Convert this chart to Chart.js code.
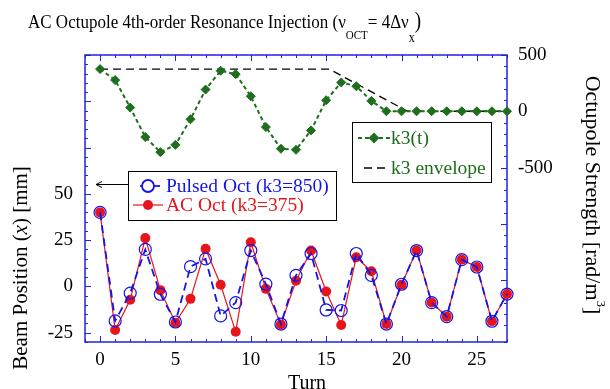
<!DOCTYPE html>
<html>
<head>
<meta charset="utf-8">
<script src="https://cdn.jsdelivr.net/npm/chart.js@4.4.1/dist/chart.umd.min.js"></script>
<style>
  html, body { margin: 0; padding: 0; background: #fff; }
  #wrap { width: 610px; height: 389px; }
</style>
</head>
<body>
<div id="wrap"><canvas id="chart" width="610" height="389"></canvas></div>
<script>
// data
const turns = [0, 1, 2, 3, 4, 5, 6, 7, 8, 9, 10, 11, 12, 13, 14, 15, 16, 17, 18, 19, 20, 21, 22, 23, 24, 25, 26, 27];
const k3Values = [375, 277, 33, -229, -363, -298, -71, 193, 360, 330, 134, -140, -333, -342, -170, 98, 256, 223, 92, 0, 0, 0, 0, 0, 0, 0, 0, 0];
const envelopeTurns = [0, 15.2, 20.4, 27];
const envelopeValues = [375, 375, 0, 0];
const pulsedValues = [40, -18.6, -3.6, 20, -4.2, -19.2, 10.7, 14.9, -15.9, -8.7, 19.4, 1.3, -20.3, 6, 17.8, -12.7, -13, 17.8, 6, -20.3, 1.2, 19.4, -8.7, -16.3, 14.5, 10.5, -18.8, -4.1];
const acValues = [40, -23.5, -7.2, 26.1, -2, -19.6, -6.7, 20.3, 0.9, -24.5, 23.9, -1.3, -20.5, 3.1, 19.4, -2.7, -20.8, 15.8, 8.2, -20.3, 0.9, 19.4, -8.7, -16.3, 14.5, 10.5, -18.8, -4.1];

const xTickLabels = [0, 5, 10, 15, 20, 25];
const leftTickLabels = [-25, 0, 25, 50];
const rightTickLabels = [-500, 0, 500];

const FONT = '"Liberation Serif", "Times New Roman", serif';
const frameBlue = '#2222e0';
const green = '#1e6e1e';
const blue = '#1414e6';
const red = '#e8141c';

function pts(xs, ys) {
    return xs.map((x, i) => ({ x: x, y: ys[i] }));
}

function line(ctx, x1, y1, x2, y2) {
    ctx.beginPath();
    ctx.moveTo(x1, y1);
    ctx.lineTo(x2, y2);
    ctx.stroke();
}

// draws a run of text pieces (for sub / superscripts)
function drawRuns(ctx, x, y, runs) {
    runs.forEach(r => {
        ctx.font = r.font;
        ctx.fillText(r.text, x, y + (r.dy || 0));
        x += ctx.measureText(r.text).width;
    });
}

function runsWidth(ctx, runs) {
    let w = 0;
    runs.forEach(r => { ctx.font = r.font; w += ctx.measureText(r.text).width; });
    return w;
}

const decorPlugin = {
    id: 'decor',
    beforeDatasetsDraw(chart) {
        const ctx = chart.ctx;
        const a = chart.chartArea;
        ctx.save();
        ctx.strokeStyle = frameBlue;
        ctx.lineWidth = 1;

        // inward ticks
        const xs = chart.scales.x;
        xs.ticks.forEach(t => {
            const px = Math.round(xs.getPixelForValue(t.value)) + 0.5;
            const len = t.value % 5 === 0 ? 6 : 3;
            line(ctx, px, a.bottom, px, a.bottom - len);
            line(ctx, px, a.top, px, a.top + len);
        });
        const ys = chart.scales.y;
        ys.ticks.forEach(t => {
            const py = Math.round(ys.getPixelForValue(t.value)) + 0.5;
            const len = t.value % 25 === 0 ? 6 : 3;
            line(ctx, a.left, py, a.left + len, py);
        });
        const ys2 = chart.scales.y2;
        ys2.ticks.forEach(t => {
            const py = Math.round(ys2.getPixelForValue(t.value)) + 0.5;
            const len = t.value % 500 === 0 ? 6 : 3;
            line(ctx, a.right, py, a.right - len, py);
        });

        ctx.lineWidth = 1.5;
        ctx.strokeRect(a.left, a.top, a.right - a.left, a.bottom - a.top);
        ctx.restore();
    },
    afterDraw(chart) {
        const ctx = chart.ctx;
        const a = chart.chartArea;
        const ds = chart.data.datasets;
        ctx.save();
        ctx.fillStyle = '#000';
        ctx.textBaseline = 'alphabetic';
        ctx.textAlign = 'left';

        // main title (the reference lettering is a bit taller than wide)
        ctx.save();
        ctx.translate(28, 28);
        ctx.scale(1, 1.17);
        drawRuns(ctx, 0, 0, [
            { text: 'AC Octupole 4th-order Resonance Injection (\u03bd', font: '17px ' + FONT },
            { text: 'OCT', font: '11px ' + FONT, dy: 9.5 },
            { text: '= 4\u0394\u03bd', font: '17px ' + FONT },
            { text: 'x', font: '12px ' + FONT, dy: 12 },
            { text: ')', font: '19px ' + FONT }
        ]);
        ctx.restore();

        // x axis title
        ctx.font = '20px ' + FONT;
        ctx.textAlign = 'center';
        ctx.fillText('Turn', (a.left + a.right) / 2 + 11, 389);

        // left axis title, centred on the labelled range
        const ys = chart.scales.y;
        const cyLeft = (ys.getPixelForValue(-30) + ys.getPixelForValue(50)) / 2;
        ctx.save();
        ctx.translate(27, cyLeft);
        ctx.rotate(-Math.PI / 2);
        const leftRuns = [
            { text: 'Beam Position (', font: '21px ' + FONT },
            { text: 'x', font: 'italic 21px ' + FONT },
            { text: ') [mm]', font: '21px ' + FONT }
        ];
        ctx.textAlign = 'left';
        drawRuns(ctx, -runsWidth(ctx, leftRuns) / 2, 0, leftRuns);
        ctx.restore();

        // right axis title
        ctx.save();
        ctx.translate(586, 195);
        ctx.rotate(Math.PI / 2);
        const rightRuns = [
            { text: 'Octupole Strength [rad/m', font: '22px ' + FONT },
            { text: '3', font: '13px ' + FONT, dy: -11 },
            { text: ']', font: '22px ' + FONT }
        ];
        ctx.textAlign = 'left';
        drawRuns(ctx, -runsWidth(ctx, rightRuns) / 2, 0, rightRuns);
        ctx.restore();

        // legend for beam position
        ctx.fillStyle = '#fff';
        ctx.fillRect(128.5, 171.5, 208, 49);
        ctx.strokeStyle = '#000';
        ctx.lineWidth = 1;
        ctx.strokeRect(128.5, 171.5, 208, 49);

        // arrow pointing to left axis
        line(ctx, 128, 184.5, 96, 184.5);
        line(ctx, 96, 184.5, 102, 181.5);
        line(ctx, 96, 184.5, 102, 187.5);

        ctx.font = '19.5px ' + FONT;
        ctx.textAlign = 'left';
        ctx.textBaseline = 'middle';

        const pulsed = ds[2];
        ctx.strokeStyle = pulsed.borderColor;
        ctx.lineWidth = pulsed.borderWidth;
        ctx.setLineDash([]);
        line(ctx, 140, 186, 160, 186);
        Chart.helpers.drawPoint(ctx, { pointStyle: 'circle', radius: 6, borderWidth: 1.2 }, 148, 186);
        ctx.fillStyle = blue;
        ctx.fillText(pulsed.label, 166, 187);

        const ac = ds[3];
        ctx.strokeStyle = ac.borderColor;
        ctx.lineWidth = ac.borderWidth;
        line(ctx, 133, 205, 163, 205);
        ctx.fillStyle = red;
        Chart.helpers.drawPoint(ctx, { pointStyle: 'circle', radius: 5, borderWidth: 0 }, 148, 205);
        ctx.fillText(ac.label, 166, 206);

        // legend for octupole strength
        ctx.fillStyle = '#fff';
        ctx.fillRect(352.5, 122.5, 139, 60);
        ctx.strokeStyle = '#000';
        ctx.lineWidth = 1;
        ctx.strokeRect(352.5, 122.5, 139, 60);

        const k3 = ds[0];
        ctx.strokeStyle = k3.borderColor;
        ctx.lineWidth = k3.borderWidth;
        ctx.setLineDash(k3.borderDash);
        line(ctx, 358, 138, 390, 138);
        ctx.setLineDash([]);
        ctx.fillStyle = green;
        ctx.strokeStyle = green;
        Chart.helpers.drawPoint(ctx, { pointStyle: 'rectRot', radius: 4, borderWidth: 1 }, 374, 138);
        ctx.fillText(k3.label, 391, 139);

        const env = ds[1];
        ctx.strokeStyle = env.borderColor;
        ctx.lineWidth = env.borderWidth;
        ctx.setLineDash(env.borderDash);
        line(ctx, 364, 168, 388, 168);
        ctx.setLineDash([]);
        ctx.fillStyle = green;
        ctx.fillText(env.label, 391, 169);

        ctx.restore();
    }
};

new Chart(document.getElementById('chart'), {
    type: 'line',
    data: {
        datasets: [
            {
                label: 'k3(t)',
                data: pts(turns, k3Values),
                yAxisID: 'y2',
                borderColor: green,
                backgroundColor: green,
                borderWidth: 2,
                borderDash: [4, 3],
                pointStyle: 'rectRot',
                pointRadius: 4.5,
                pointBorderWidth: 1,
                order: 3,
                clip: false
            },
            {
                label: 'k3 envelope',
                data: pts(envelopeTurns, envelopeValues),
                yAxisID: 'y2',
                borderColor: '#000',
                borderWidth: 1.3,
                borderDash: [8, 5],
                pointRadius: 0,
                order: 4,
                clip: false
            },
            {
                label: 'Pulsed Oct (k3=850)',
                data: pts(turns, pulsedValues),
                yAxisID: 'y',
                borderColor: blue,
                backgroundColor: 'rgba(0,0,0,0)',
                borderWidth: 1.8,
                borderDash: [8, 5],
                pointStyle: 'circle',
                pointRadius: 6,
                pointBorderWidth: 1.2,
                order: 1,
                clip: false
            },
            {
                label: 'AC Oct (k3=375)',
                data: pts(turns, acValues),
                yAxisID: 'y',
                borderColor: red,
                backgroundColor: red,
                borderWidth: 1.2,
                pointStyle: 'circle',
                pointRadius: 5,
                pointBorderWidth: 0,
                order: 2,
                clip: false
            }
        ]
    },
    options: {
        responsive: false,
        devicePixelRatio: 1,
        animation: false,
        layout: { padding: { top: 55, left: 0, right: 0, bottom: 0 } },
        plugins: {
            legend: { display: false },
            title: { display: false },
            tooltip: { enabled: false }
        },
        scales: {
            x: {
                type: 'linear',
                min: -1,
                max: 27,
                grid: { display: false, drawTicks: false },
                border: { display: false },
                ticks: {
                    stepSize: 1,
                    autoSkip: false,
                    maxRotation: 0,
                    padding: 7,
                    color: '#000',
                    font: { family: FONT, size: 19 },
                    callback: v => xTickLabels.includes(v) ? String(v) : ''
                },
                afterFit: s => { s.height = 47; }
            },
            y: {
                position: 'left',
                min: -30,
                max: 125,
                grid: { display: false, drawTicks: false },
                border: { display: false },
                ticks: {
                    stepSize: 5,
                    autoSkip: false,
                    padding: 12,
                    color: '#000',
                    font: { family: FONT, size: 19 },
                    callback: v => leftTickLabels.includes(v) ? String(v) : ''
                },
                afterFit: s => { s.width = 85; }
            },
            y2: {
                position: 'right',
                min: -2050,
                max: 500,
                grid: { display: false, drawTicks: false },
                border: { display: false },
                ticks: {
                    stepSize: 100,
                    autoSkip: false,
                    padding: 11,
                    color: '#000',
                    font: { family: FONT, size: 19 },
                    callback: v => rightTickLabels.includes(v) ? String(v) : ''
                },
                afterFit: s => { s.width = 103; }
            }
        }
    },
    plugins: [decorPlugin]
});
</script>
</body>
</html>
